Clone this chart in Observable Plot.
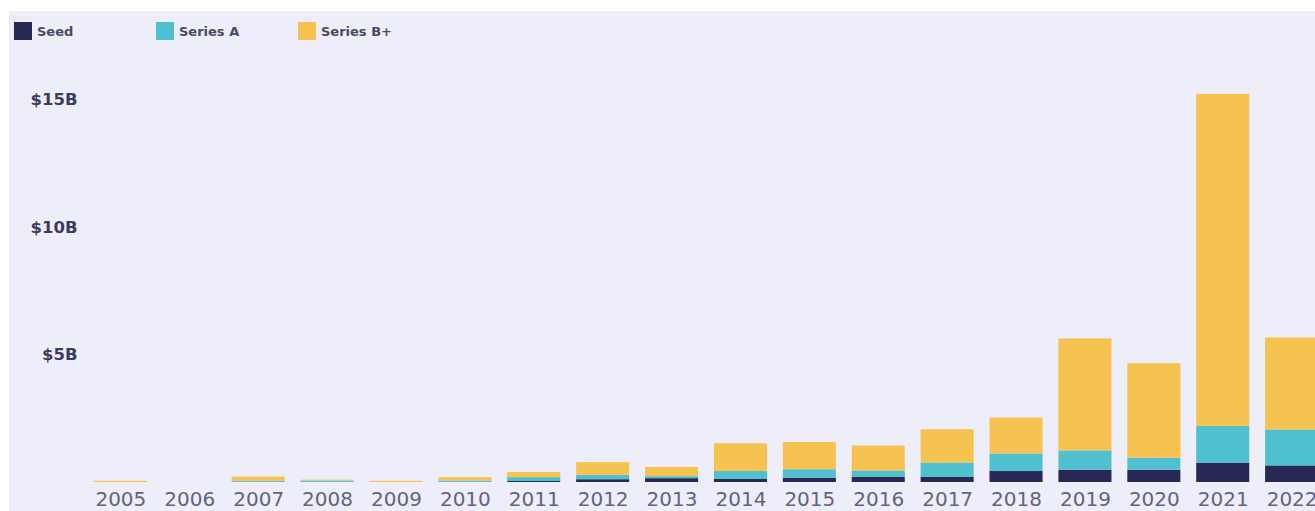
<!DOCTYPE html>
<html>
<head>
<meta charset="utf-8">
<script src="https://cdn.jsdelivr.net/npm/d3@7"></script>
<script src="https://cdn.jsdelivr.net/npm/@observablehq/plot@0.6"></script>
<style>
  html, body { margin: 0; padding: 0; width: 1315px; height: 511px; overflow: hidden; background: #ffffff; }
  #panel { position: absolute; left: 9px; top: 11px; right: 0; bottom: 0; background: #EEEDFA; }
  #chart { position: absolute; left: 0; top: 0; width: 1334px; height: 511px; }
  #chart svg { max-width: none !important; }
  #legend { position: absolute; left: 0; top: 0; font-family: "DejaVu Sans", sans-serif; font-weight: bold; font-size: 13px; color: #4A4968; }
  .item { position: absolute; top: 22px; display: flex; align-items: center; white-space: nowrap; }
  .sw { width: 18px; height: 18px; margin-right: 5px; }
</style>
</head>
<body>
<div id="panel"></div>
<div id="chart"></div>
<div id="legend"></div>
<script>
const years = [2005,2006,2007,2008,2009,2010,2011,2012,2013,2014,2015,2016,2017,2018,2019,2020,2021,2022];
const seed    = [0,0,0.01,0.01,0,0.01,0.04,0.11,0.15,0.12,0.17,0.21,0.21,0.43,0.48,0.48,0.76,0.65];
const seriesA = [0,0,0.04,0.05,0,0.05,0.15,0.17,0.08,0.31,0.33,0.24,0.55,0.69,0.76,0.47,1.44,1.41];
const seriesB = [0.05,0,0.16,0.03,0.05,0.13,0.2,0.5,0.36,1.09,1.07,0.98,1.31,1.41,4.39,3.71,13.02,3.61];
const seriesNames = ["Seed","Series A","Series B+"];
const colors = ["#272853","#4EC0D0","#F6C350"];
const yTicks = [5,10,15];

const data = [];
[seed, seriesA, seriesB].forEach((arr, s) => {
  arr.forEach((v, i) => data.push({year: String(years[i]), series: seriesNames[s], value: v}));
});

const chart = Plot.plot({
  width: 1334,
  height: 511,
  marginLeft: 78,
  marginRight: 0,
  marginTop: 74,
  marginBottom: 29,
  style: {background: "transparent", overflow: "visible", maxWidth: "none"},
  x: {domain: years.map(String), padding: 0.23, round: false, label: null},
  y: {domain: [0, 16], label: null},
  color: {domain: seriesNames, range: colors},
  marks: [
    Plot.barY(data, Plot.stackY({x: "year", y: "value", z: "series", fill: "series", order: seriesNames})),
    Plot.axisX({tickSize: 0, tickPadding: 9, fontSize: 20, fill: "#646380", fontFamily: "DejaVu Sans"}),
    Plot.axisY({ticks: yTicks, tickSize: 0, tickPadding: 1, tickFormat: d => `$${d}B`, fontSize: 16.5, fontWeight: "bold", fill: "#3D3C5E", fontFamily: "DejaVu Sans"})
  ]
});
document.getElementById("chart").appendChild(chart);

const legend = document.getElementById("legend");
const lx = [14, 156, 298];
seriesNames.forEach((name, i) => {
  const it = document.createElement("div");
  it.className = "item";
  it.style.left = lx[i] + "px";
  it.innerHTML = `<span class="sw" style="background:${colors[i]}"></span><span>${name}</span>`;
  legend.appendChild(it);
});
</script>
</body>
</html>
